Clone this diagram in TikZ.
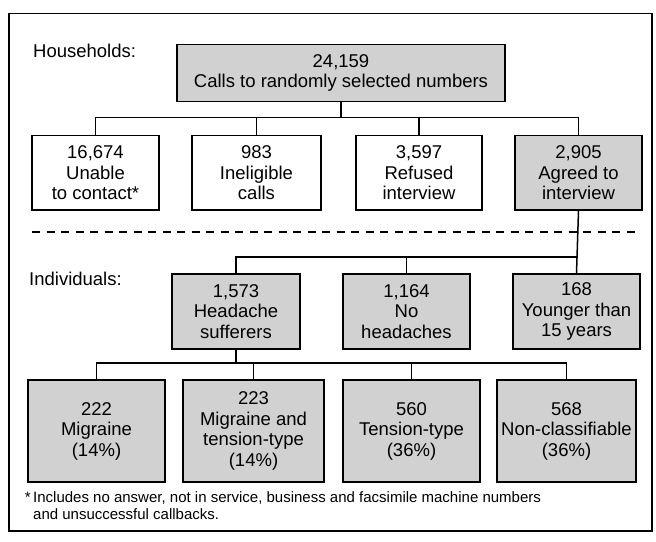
\documentclass[tikz,border=0pt]{standalone}
\usepackage{fontspec}
\setmainfont{Liberation Sans}
\begin{document}
\begin{tikzpicture}[x=1pt,y=-1pt,
  box/.style={draw, line width=1.6pt, align=center, inner sep=0pt, font=\fontsize{18.5}{20.5}\selectfont},
  shaded/.style={box, fill=black!18},
  plain/.style={box, fill=white},
  conn/.style={line width=1.5pt},
  lab/.style={font=\fontsize{18.5}{20}\selectfont, inner sep=0pt, anchor=base west},
  foot/.style={font=\fontsize{15}{17}\selectfont, inner sep=0pt, anchor=base west, align=left},
  sep/.style={line width=1.2pt, dash pattern=on 8pt off 6.5pt},
]
\useasboundingbox (0,0) rectangle (656,541);
\draw[line width=1.8pt] (9,13.5) rectangle (652,531);

% labels
\node[lab] (hh) at (33,57) {Households:};
\node[lab] (ind) at (29,285) {Individuals:};

% top
\node[shaded, minimum width=328pt, minimum height=57pt] (top) at (341,73) {24,159\\Calls to randomly selected numbers};

% row 2
\node[plain, minimum width=127pt, minimum height=74.5pt] (r2a) at (95.5,172.75) {16,674\\Unable\\to contact*};
\node[plain, minimum width=129pt, minimum height=74.5pt] (r2b) at (256.5,172.75) {983\\Ineligible\\calls};
\node[plain, minimum width=126pt, minimum height=74.5pt] (r2c) at (419,172.75) {3,597\\Refused\\interview};
\node[shaded, minimum width=127pt, minimum height=74.5pt] (r2d) at (578.5,172.75) {2,905\\Agreed to\\interview};

% separator
\coordinate (dl) at (32,232);
\coordinate (dr) at (637,232);
\draw[sep] (dl) -- (dr);

% row 3
\node[shaded, minimum width=128pt, minimum height=75pt] (r3a) at (236,311.5) {1,573\\Headache\\sufferers};
\node[shaded, minimum width=127pt, minimum height=75pt] (r3b) at (406.5,311.5) {1,164\\No\\headaches};
\node[shaded, minimum width=127pt, minimum height=75pt] (r3c) at (576.5,311.5) {168\\Younger than\\15 years};

% row 4
\node[shaded, minimum width=137pt, minimum height=102pt] (r4a) at (96.5,431) {222\\Migraine\\(14\%)};
\node[shaded, minimum width=141pt, minimum height=102pt] (r4b) at (253.5,431) {223\\Migraine and\\tension-type\\(14\%)};
\node[shaded, minimum width=137pt, minimum height=102pt] (r4c) at (411.5,431) {560\\Tension-type\\(36\%)};
\node[shaded, minimum width=139pt, minimum height=102pt] (r4d) at (566.5,431) {568\\Non-classifiable\\(36\%)};

% connectors
\coordinate (j1) at (0,117.5);
\coordinate (j2) at (0,257);
\coordinate (j3) at (0,363);
\draw[conn] (top.south) -- (top.south |- j1);
\draw[conn] (r2a.north) -- (r2a.north |- j1) -- (r2d.north |- j1) -- (r2d.north);
\draw[conn] (r2b.north) -- (r2b.north |- j1);
\draw[conn] (r2c.north) -- (r2c.north |- j1);

\draw[conn] (r2d.south) -- (r3c.north);
\draw[conn] (r3a.north) -- (r3a.north |- j2) -- (r3c.north |- j2);
\draw[conn] (r3b.north) -- (r3b.north |- j2);

\draw[conn] (r3a.south) -- (r3a.south |- j3);
\draw[conn] (r4a.north) -- (r4a.north |- j3) -- (r4d.north |- j3) -- (r4d.north);
\draw[conn] (r4b.north) -- (r4b.north |- j3);
\draw[conn] (r4c.north) -- (r4c.north |- j3);

% footnote
\node[foot] (fn) at (33,519) {\llap{*\,}Includes no answer, not in service, business and facsimile machine numbers\\and unsuccessful callbacks.};
\end{tikzpicture}
\end{document}
